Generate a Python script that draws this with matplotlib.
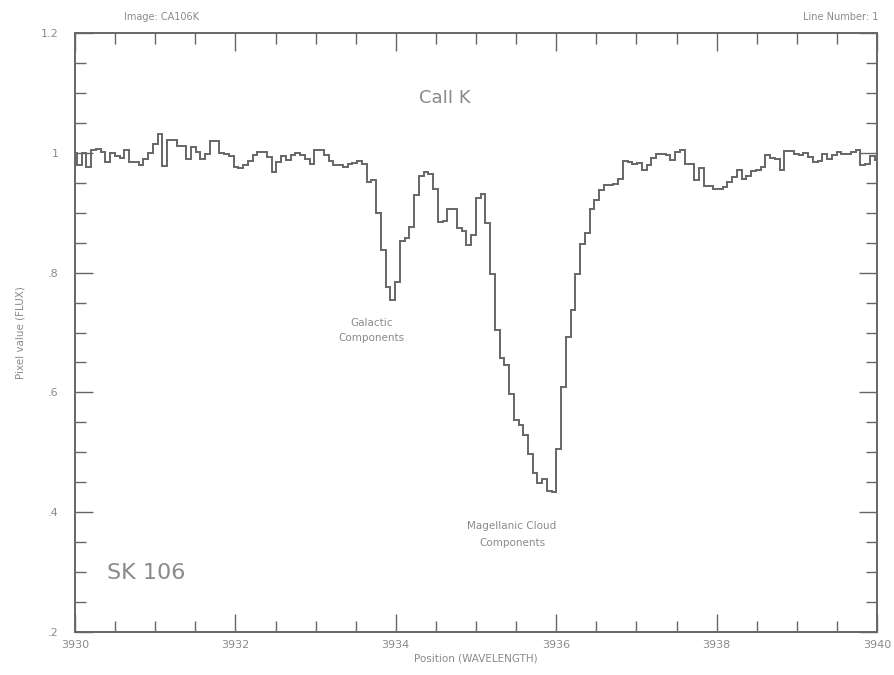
import numpy as np
import matplotlib
matplotlib.use('Agg')
import matplotlib.pyplot as plt
from matplotlib.ticker import MultipleLocator, FixedLocator, FixedFormatter

# spectrum (step data)
wl_start = 3929.965
wl_step = 0.0592
flux = [1.000, 0.979, 1.000, 0.976, 1.005, 1.006, 1.001, 0.985, 0.999, 0.995,
        0.991, 1.004, 0.985, 0.984, 0.980, 0.990, 1.000, 1.015, 1.032, 0.978,
        1.021, 1.021, 1.012, 1.011, 0.990, 1.009, 1.002, 0.990, 0.998, 1.019,
        1.020, 1.000, 0.998, 0.995, 0.976, 0.974, 0.980, 0.987, 0.996, 1.001,
        1.001, 0.993, 0.968, 0.984, 0.995, 0.988, 0.996, 0.999, 0.997, 0.990,
        0.982, 1.004, 1.004, 0.996, 0.986, 0.980, 0.979, 0.976, 0.982, 0.983,
        0.987, 0.982, 0.951, 0.955, 0.899, 0.838, 0.776, 0.754, 0.785, 0.852,
        0.857, 0.876, 0.929, 0.962, 0.968, 0.965, 0.940, 0.884, 0.886, 0.907,
        0.907, 0.874, 0.870, 0.846, 0.862, 0.924, 0.931, 0.882, 0.798, 0.704,
        0.657, 0.645, 0.597, 0.554, 0.545, 0.529, 0.498, 0.466, 0.448, 0.456,
        0.436, 0.433, 0.505, 0.609, 0.693, 0.738, 0.797, 0.847, 0.866, 0.907,
        0.921, 0.938, 0.946, 0.946, 0.948, 0.957, 0.987, 0.985, 0.981, 0.983,
        0.972, 0.980, 0.992, 0.998, 0.998, 0.996, 0.988, 1.001, 1.004, 0.982,
        0.982, 0.954, 0.974, 0.944, 0.944, 0.940, 0.940, 0.943, 0.951, 0.959,
        0.971, 0.957, 0.962, 0.969, 0.971, 0.976, 0.996, 0.991, 0.989, 0.971,
        1.003, 1.003, 0.998, 0.997, 0.999, 0.993, 0.985, 0.987, 0.998, 0.990,
        0.996, 1.001, 0.998, 0.998, 1.001, 1.004, 0.979, 0.981, 0.994, 0.988]
edges = wl_start + wl_step * np.arange(len(flux) + 1)

yticks = [0.2, 0.4, 0.6, 0.8, 1.0, 1.2]
ylabels = ['.2', '.4', '.6', '.8', '1', '1.2']
xticks = [3930, 3932, 3934, 3936, 3938, 3940]

grey = '#666666'
tgrey = '#8a8a8a'

fig = plt.figure(figsize=(8.94, 6.75), dpi=100)
ax = fig.add_axes([0.0839, 0.0637, 0.8971, 0.8874])
ax.stairs(flux, edges, color=grey, lw=1.4, baseline=None)
ax.set_xlim(3930, 3940)
ax.set_ylim(0.2, 1.2)

ax.xaxis.set_major_locator(FixedLocator(xticks))
ax.xaxis.set_minor_locator(MultipleLocator(0.5))
ax.yaxis.set_major_locator(FixedLocator(yticks))
ax.yaxis.set_major_formatter(FixedFormatter(ylabels))
ax.yaxis.set_minor_locator(MultipleLocator(0.05))
ax.tick_params(which='both', direction='in', top=True, right=True,
               color=grey, width=1.0, labelcolor=tgrey, labelsize=8)
ax.tick_params(which='major', length=13)
ax.tick_params(which='minor', length=8)
ax.tick_params(axis='x', pad=6)
ax.tick_params(axis='y', pad=12)
for s in ax.spines.values():
    s.set_color(grey)
    s.set_linewidth(1.4)

ax.set_xlabel('Position (WAVELENGTH)', color=tgrey, fontsize=7.5, labelpad=2)
ax.set_ylabel('Pixel value (FLUX)', color=tgrey, fontsize=7.5, labelpad=11)

ax.text(3934.61, 1.092, 'CaII K', color=tgrey, fontsize=13, ha='center', va='center')
ax.text(3933.70, 0.704, 'Galactic\nComponents', color=tgrey, fontsize=7.5,
        ha='center', va='center', linespacing=1.6)
ax.text(3935.45, 0.363, 'Magellanic Cloud\nComponents', color=tgrey, fontsize=7.5,
        ha='center', va='center', linespacing=1.9)
ax.text(3930.40, 0.298, 'SK 106', color=tgrey, fontsize=16, ha='left', va='center')

fig.text(0.139, 0.975, 'Image: CA106K', color=tgrey, fontsize=7, ha='left', va='center')
fig.text(0.982, 0.975, 'Line Number: 1', color=tgrey, fontsize=7, ha='right', va='center')

fig.savefig('out.png', dpi=100, facecolor='white')
